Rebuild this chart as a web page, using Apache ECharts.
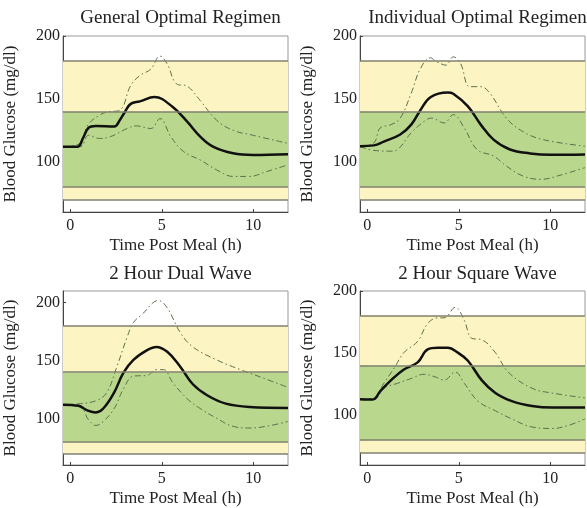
<!DOCTYPE html>
<html>
<head>
<meta charset="utf-8">
<script src="https://cdn.jsdelivr.net/npm/echarts@6/dist/echarts.min.js"></script>
<style>
  html, body { margin: 0; padding: 0; background: #fff; }
  #main { width: 587px; height: 508px; }
</style>
</head>
<body>
<div id="main"></div>
<script>
// panel titles
const titles = ['General Optimal Regimen', 'Individual Optimal Regimen', '2 Hour Dual Wave', '2 Hour Square Wave'];
const xTicks = [0, 5, 10];
const yTicks = [100, 150, 200];
const yMax = [200, 200, 210, 200];
// band edges (mg/dl)
const bandEdges = [70, 80, 140, 180];

// [hour, mg/dl]
const generalMean = [[-0.4,112],[0.4,112],[0.7,119],[1.0,127],[1.4,128.5],[2.4,128],[2.7,133],[3.0,140],[3.3,146],[3.8,148],[4.6,151.5],[5.6,143.5],[6.4,131.7],[7.1,120],[7.8,112],[8.9,106.7],[10,105.4],[11.9,106]];
const generalUpper = [[-0.4,112],[0.45,114],[1.0,130],[1.6,137],[2.0,139.5],[2.7,141],[3.3,160.6],[3.8,168.5],[4.4,173.7],[4.9,184],[5.3,177.6],[5.8,162],[6.4,160],[7.1,148.7],[8.0,133],[8.9,125],[10,121],[11.9,114.6]];
const generalLower = [[-0.4,112],[0.55,112],[1.0,121],[1.6,118.5],[2.2,120],[3.1,126.4],[3.6,128.5],[4.4,126.4],[4.9,134.3],[5.5,119.8],[6.2,108],[7.1,101.4],[8.0,93.5],[8.9,88.3],[9.8,88.3],[10.7,92],[11.9,97.5]];

const individualMean = [[-0.4,112.4],[0.36,113],[0.9,116],[1.8,121.6],[2.4,129.5],[2.9,141],[3.45,151.3],[4.4,155],[4.7,154],[5.5,144],[6.2,129.5],[6.9,117.6],[7.8,109.7],[8.9,106.6],[10,105.5],[11.9,105.8]];
const individualUpper = [[-0.4,112],[0.36,115],[0.7,126.8],[1.3,129.5],[1.8,134.7],[2.4,154.5],[2.9,174],[3.45,182.6],[3.8,179.5],[4.3,176.8],[4.7,183.4],[5.1,178],[5.6,159.7],[6.2,159.7],[6.7,154.5],[7.6,134.7],[8.5,124],[9.6,117.6],[11.9,112.4]];
const individualLower = [[-0.4,112],[0.36,109],[1.3,108.4],[1.6,109.2],[2.4,123],[3.1,132],[3.5,134.7],[4.2,130.8],[4.7,137.4],[5.3,126.8],[6.0,109.7],[6.9,104.5],[7.6,96.6],[8.5,88.7],[9.5,86],[10.4,88.7],[11.9,95.3]];

const dualMean = [[-0.4,112],[0.45,111],[0.9,107.3],[1.4,105.3],[1.8,108.7],[2.4,122.7],[2.9,139.4],[3.45,150.6],[4.2,159],[4.7,161.8],[5.3,157.6],[6.0,145],[6.7,129.6],[7.5,119.9],[8.5,112.9],[9.8,110],[11.9,109.2]];
const dualUpper = [[-0.4,112],[0.55,112.9],[1.45,115.7],[2.0,122.7],[2.55,145],[3.1,170],[3.45,182.8],[4.0,191],[4.5,199.6],[4.8,201.8],[5.3,195.4],[6.0,174.4],[6.7,161.8],[8.0,150.6],[9.3,142.2],[10.5,135.2],[11.9,126.9]];
const dualLower = [[-0.4,112],[0.55,110],[1.0,98.9],[1.4,94.1],[1.8,97.5],[2.4,108.7],[2.9,125.5],[3.45,136.6],[4.2,137.2],[4.7,142.2],[5.1,142.2],[5.6,131],[6.4,117],[7.1,108.7],[8.0,100.3],[8.9,93.3],[9.8,91.9],[10.7,93.3],[11.9,97.5]];

const squareMean = [[-0.4,113],[0.3,112.7],[0.7,119.2],[1.3,128.3],[2.0,136.9],[2.75,142.6],[3.3,153],[3.85,154.3],[4.4,154.3],[4.95,150.4],[5.5,143.9],[6.25,128.3],[7.0,117.9],[7.9,111.4],[9.0,107.5],[10.1,106.2],[11.9,106.2]];
const squareUpper = [[-0.4,113],[0.37,114],[0.9,125.7],[1.5,138.7],[2.0,150.4],[2.75,159.5],[3.3,173.8],[3.85,178.4],[4.2,178.4],[4.8,186.8],[5.3,176.4],[5.7,162],[6.25,160.8],[7.0,150.4],[7.7,134.8],[9.0,121.8],[10.1,117.9],[11.9,114]];
const squareLower = [[-0.4,113],[0.37,112.7],[0.9,121.8],[1.65,125.7],[2.4,129.6],[3.1,133],[3.7,130.9],[4.2,128.3],[4.8,134.8],[5.3,125.7],[6.05,111.4],[7.0,103.6],[7.9,97.1],[9.0,90.6],[10.1,89.4],[11.0,91.9],[11.9,97.1]];

const means = [generalMean, individualMean, dualMean, squareMean];
const uppers = [generalUpper, individualUpper, dualUpper, squareUpper];
const lowers = [generalLower, individualLower, dualLower, squareLower];

const chart = echarts.init(document.getElementById('main'), null, { renderer: 'canvas' });

const font = 'Liberation Serif';
const textColor = '#222';
const grids = [
  { left: 63, top: 36, width: 225, height: 176 },
  { left: 360, top: 36, width: 225, height: 176 },
  { left: 63, top: 291, width: 225, height: 177 },
  { left: 360, top: 291, width: 225, height: 177 }
];

const option = {
  backgroundColor: '#fff',
  animation: false,
  title: [],
  grid: [],
  xAxis: [],
  yAxis: [],
  series: []
};

for (let i = 0; i < 4; i++) {
  const g = grids[i];
  option.grid.push({
    left: g.left, top: g.top, width: g.width, height: g.height,
    show: true, borderColor: '#999', borderWidth: 1, backgroundColor: 'transparent'
  });
  option.title.push({
    text: titles[i],
    left: g.left + g.width / 2,
    top: i < 2 ? 4 : 260,
    textAlign: 'center',
    textStyle: { fontFamily: font, fontSize: 19, fontWeight: 'normal', color: textColor }
  });
  option.xAxis.push({
    type: 'value', gridIndex: i, min: -0.4, max: 11.9,
    name: 'Time Post Meal (h)', nameLocation: 'middle', nameGap: 25,
    nameTextStyle: { fontFamily: font, fontSize: 17, color: textColor },
    axisLine: { show: true, onZero: false, lineStyle: { color: '#444', width: 1 } },
    axisTick: { show: true, inside: true, length: 3, customValues: xTicks, lineStyle: { color: '#444' } },
    axisLabel: { customValues: xTicks, fontFamily: font, fontSize: 16, color: textColor, margin: 6 },
    splitLine: { show: false }
  });
  option.yAxis.push({
    type: 'value', gridIndex: i, min: 60, max: yMax[i],
    name: 'Blood Glucose (mg/dl)', nameLocation: 'middle', nameGap: 44, nameRotate: 90,
    nameTextStyle: { fontFamily: font, fontSize: 17, color: textColor },
    axisLine: { show: true, onZero: false, lineStyle: { color: '#444', width: 1 } },
    axisTick: { show: true, inside: true, length: 3, customValues: yTicks, lineStyle: { color: '#444' } },
    axisLabel: { customValues: yTicks, fontFamily: font, fontSize: 16, color: textColor, margin: 3 },
    splitLine: { show: false }
  });
  // target bands and their edges
  option.series.push({
    type: 'line', xAxisIndex: i, yAxisIndex: i, data: [], z: 1, silent: true,
    markArea: {
      silent: true,
      data: [
        [{ yAxis: bandEdges[0], itemStyle: { color: '#fcf5c3' } }, { yAxis: bandEdges[1] }],
        [{ yAxis: bandEdges[1], itemStyle: { color: '#b9d78d' } }, { yAxis: bandEdges[2] }],
        [{ yAxis: bandEdges[2], itemStyle: { color: '#fcf5c3' } }, { yAxis: bandEdges[3] }]
      ]
    },
    markLine: {
      silent: true, symbol: 'none', label: { show: false },
      lineStyle: { color: '#80806e', width: 1.5, type: 'solid' },
      data: bandEdges.map(v => ({ yAxis: v }))
    }
  });
  const dashStyle = { color: '#5f6e4c', width: 1, type: [6, 3, 1.5, 3] };
  option.series.push({
    type: 'line', xAxisIndex: i, yAxisIndex: i, data: uppers[i], z: 3,
    smooth: 0.4, showSymbol: false, lineStyle: dashStyle
  });
  option.series.push({
    type: 'line', xAxisIndex: i, yAxisIndex: i, data: lowers[i], z: 3,
    smooth: 0.4, showSymbol: false, lineStyle: dashStyle
  });
  option.series.push({
    type: 'line', xAxisIndex: i, yAxisIndex: i, data: means[i], z: 4,
    smooth: 0.4, showSymbol: false, lineStyle: { color: '#111', width: 2.5 }
  });
}

chart.setOption(option);
</script>
</body>
</html>
